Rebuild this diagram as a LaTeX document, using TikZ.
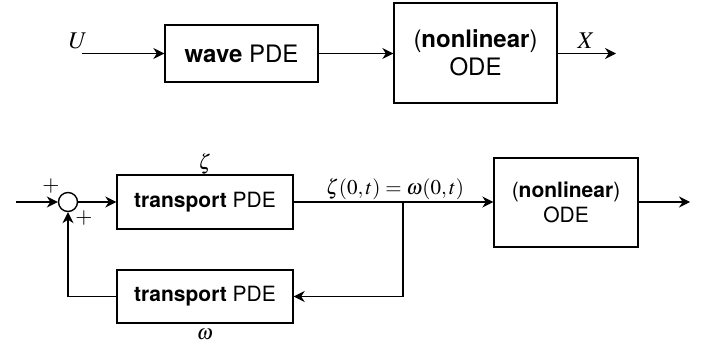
\documentclass[tikz,border=0pt]{standalone}
\usepackage{mathptmx}
\usepackage{fontspec}
\setmainfont{TeX Gyre Heros}
\usetikzlibrary{arrows.meta}
\tikzset{
  blk/.style={draw, line width=0.7pt, align=center, inner sep=0pt},
  bigtext/.style={font=\fontsize{12}{14}\selectfont},
  smalltext/.style={font=\fontsize{10.5}{12.5}\selectfont},
  sig/.style={line width=0.7pt, -{Stealth[length=5.5pt,width=5.5pt,inset=1.8pt]}},
  wire/.style={line width=0.7pt},
  lbl/.style={inner sep=0pt},
}
\begin{document}
\begin{tikzpicture}[x=0.5pt, y=-0.5pt]
\useasboundingbox (0,0) rectangle (707,347);

% upper chain: input -> wave PDE -> nonlinear ODE -> output
\node[blk, bigtext, minimum width=76.5pt, minimum height=28.5pt] (wave) at (241.5,53.5) {\textbf{wave} PDE};
\node[blk, bigtext, minimum width=81.5pt, minimum height=50pt] (odeA) at (475.5,53) {(\textbf{nonlinear})\\ODE};
\coordinate (uin) at (82,53.5);
\coordinate (xout) at (616,53.5);
\node[lbl, font=\fontsize{12}{14}\selectfont] (U) at (78,41) {$U$};
\node[lbl, font=\fontsize{12}{14}\selectfont] (X) at (586,41) {$X$};
\draw[sig] (uin) -- (wave.west);
\draw[sig] (wave.east) -- (wave.east -| odeA.west);
\draw[sig] (odeA.east |- xout) -- (xout);

% lower loop: summing junction, two transport PDEs, nonlinear ODE
\node[draw, circle, line width=0.7pt, minimum size=9.5pt, inner sep=0pt] (sum) at (68,202) {};
\node[blk, smalltext, minimum width=88pt, minimum height=27pt] (tp1) at (205,202) {\textbf{transport} PDE};
\node[blk, smalltext, minimum width=88pt, minimum height=26.5pt] (tp2) at (205,296.5) {\textbf{transport} PDE};
\node[blk, smalltext, minimum width=72pt, minimum height=44.5pt] (odeB) at (566,202.5) {(\textbf{nonlinear})\\ODE};
\coordinate (bin) at (16,202);
\coordinate (branch) at (403,202);
\coordinate (bout) at (690,202);

\node[lbl, smalltext] (zeta) at (205,164) {$\zeta$};
\node[lbl, smalltext] (omega) at (205,334) {$\omega$};
\node[lbl, smalltext] (trace) at (395,189) {$\zeta(0,t)=\omega(0,t)$};
\node[lbl, font=\fontsize{11}{13}\selectfont] (p1) at (51,186) {$+$};
\node[lbl, font=\fontsize{11}{13}\selectfont] (p2) at (84,218) {$+$};

\draw[sig] (bin) -- (sum.west);
\draw[sig] (sum.east) -- (tp1.west);
\draw[wire] (tp1.east) -- (branch);
\draw[sig] (branch) -- (odeB.west |- branch);
\draw[sig] (odeB.east |- bout) -- (bout);
\draw[sig] (branch) |- (tp2.east);
\draw[sig] (tp2.west) -| (sum.south);
\end{tikzpicture}
\end{document}
